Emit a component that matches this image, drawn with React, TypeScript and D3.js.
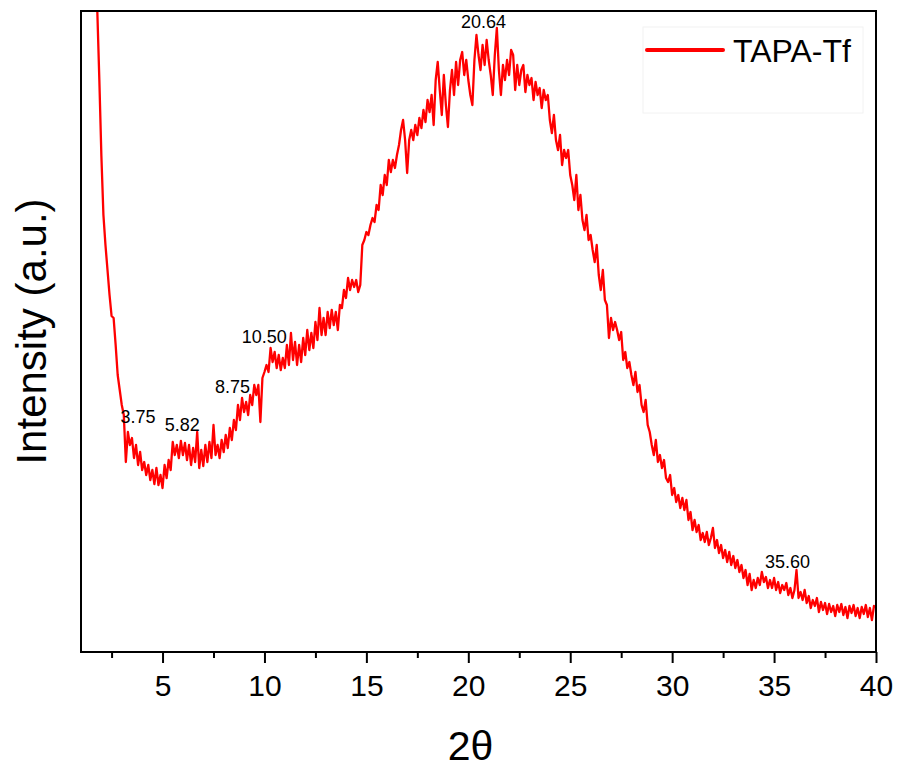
import React, { useRef, useEffect } from "react";
import * as d3 from "d3";

// 2-theta grid: 1.7 .. 40.0, step 0.1
const twoTheta = d3.range(17, 401).map((i) => i / 10);

// intensity (a.u.), one row per degree
const intensity = [
  712, 641, 572,
  496, 437, 407, 382, 357, 336, 334, 307, 277, 262,
  247, 237, 190, 220, 207, 214, 194, 207, 187, 200,
  182, 190, 177, 187, 172, 182, 168, 184, 167, 177,
  164, 187, 174, 192, 182, 210, 197, 207, 194, 211,
  197, 209, 192, 207, 187, 204, 190, 220, 184, 202,
  186, 207, 190, 210, 194, 227, 197, 207, 194, 212,
  200, 217, 204, 224, 212, 232, 222, 247, 232, 254,
  240, 250, 237, 257, 247, 267, 257, 267, 230, 274,
  280, 287, 280, 304, 290, 300, 284, 297, 282, 294,
  284, 307, 287, 319, 292, 310, 287, 307, 290, 314,
  297, 322, 302, 319, 304, 330, 312, 344, 317, 334,
  317, 340, 324, 342, 327, 340, 322, 347, 344, 362,
  354, 374, 362, 372, 365, 372, 360, 367, 407, 412,
  420, 417, 427, 434, 430, 447, 442, 467, 457, 477,
  467, 492, 480, 492, 484, 497, 507, 522, 532, 512,
  479, 512, 522, 512, 527, 517, 534, 524, 542, 530,
  552, 540, 557, 527, 572, 590, 562, 537, 577, 547,
  525, 562, 582, 557, 590, 567, 592, 600, 577, 592,
  572, 557, 547, 592, 617, 597, 582, 607, 587, 612,
  592, 577, 557, 597, 624, 582, 557, 587, 572, 592,
  577, 602, 597, 562, 587, 567, 582, 587, 560, 577,
  567, 574, 552, 570, 557, 564, 544, 562, 552, 557,
  532, 519, 537, 512, 502, 517, 487, 502, 494, 502,
  477, 467, 452, 477, 442, 457, 432, 422, 437, 412,
  417, 402, 390, 407, 377, 362, 382, 352, 347, 314,
  334, 322, 330, 322, 312, 320, 292, 300, 284, 290,
  277, 267, 280, 260, 267, 247, 240, 252, 227, 220,
  207, 197, 212, 190, 197, 184, 192, 174, 170, 177,
  157, 164, 150, 157, 144, 154, 142, 152, 132, 140,
  122, 132, 120, 127, 112, 119, 110, 120, 107, 114,
  124, 104, 112, 99, 107, 94, 102, 90, 100, 87,
  96, 84, 92, 80, 87, 74, 82, 67, 78, 62,
  72, 64, 74, 67, 80, 70, 75, 64, 72, 64,
  74, 62, 70, 59, 67, 62, 69, 57, 64, 54,
  62, 82, 54, 60, 52, 62, 49, 56, 44, 52,
  46, 54, 40, 50, 42, 49, 38, 48, 40, 46,
  36, 47, 40, 48, 37, 45, 34, 46, 39, 47,
  36, 44, 34, 45, 38, 47, 35, 44, 32, 46,
  45,
];

const majorTicks = [5, 10, 15, 20, 25, 30, 35, 40];
const minorTicks = [2.5, 7.5, 12.5, 17.5, 22.5, 27.5, 32.5, 37.5];

// peak annotations: text, where it sits (2-theta centre, intensity of baseline)
const peakText = ["3.75", "5.82", "8.75", "10.50", "20.64", "35.60"];
const peakAt = [3.8, 5.97, 8.43, 9.99, 20.75, 35.66];
const peakLevel = [229, 221, 259, 309, 624, 84];

const seriesName = "TAPA-Tf";

const FONT = "Arial, 'Liberation Sans', sans-serif";

function App() {
  const svgRef = useRef(null);

  useEffect(() => {
    const svg = d3.select(svgRef.current);
    svg.selectAll("*").remove();

    const left = 81, right = 876, top = 11, bottom = 652;

    const x = d3.scaleLinear().domain([1, 40]).range([left, right]);
    const y = d3.scaleLinear().domain([0, 641]).range([bottom, top]);

    svg.append("defs")
      .append("clipPath").attr("id", "plotclip")
      .append("rect")
      .attr("x", left).attr("y", top)
      .attr("width", right - left).attr("height", bottom - top);

    const pts = twoTheta.map((t, i) => [t, intensity[i]]);
    const line = d3.line().x((d) => x(d[0])).y((d) => y(d[1]));

    svg.append("path")
      .datum(pts)
      .attr("clip-path", "url(#plotclip)")
      .attr("fill", "none")
      .attr("stroke", "#ff0000")
      .attr("stroke-width", 2.3)
      .attr("stroke-linejoin", "round")
      .attr("d", line);

    // minor ticks
    const minor = svg.append("g")
      .attr("transform", `translate(0,${bottom})`)
      .call(d3.axisBottom(x).tickValues(minorTicks).tickSize(6).tickFormat(() => ""));
    minor.select(".domain").remove();
    minor.selectAll("line").attr("stroke", "#000").attr("stroke-width", 2);

    // major ticks
    const major = svg.append("g")
      .attr("transform", `translate(0,${bottom})`)
      .call(d3.axisBottom(x).tickValues(majorTicks).tickSize(11).tickPadding(12));
    major.select(".domain").remove();
    major.selectAll("line").attr("stroke", "#000").attr("stroke-width", 2);
    major.selectAll("text")
      .attr("fill", "#000")
      .style("font-family", FONT)
      .style("font-size", "30px");

    // frame
    svg.append("rect")
      .attr("x", left).attr("y", top)
      .attr("width", right - left).attr("height", bottom - top)
      .attr("fill", "none")
      .attr("stroke", "#000")
      .attr("stroke-width", 2);

    // peak labels
    svg.selectAll(".peak")
      .data(peakText)
      .join("text")
      .attr("class", "peak")
      .attr("x", (d, i) => x(peakAt[i]))
      .attr("y", (d, i) => y(peakLevel[i]))
      .attr("text-anchor", "middle")
      .style("font-family", FONT)
      .style("font-size", "18px")
      .attr("fill", "#000")
      .text((d) => d);

    // legend
    const lg = svg.append("g");
    lg.append("rect")
      .attr("x", 643).attr("y", 27).attr("width", 220).attr("height", 86)
      .attr("fill", "#fff").attr("stroke", "#f2f2f2").attr("stroke-width", 1);
    lg.append("line")
      .attr("x1", 647).attr("x2", 723).attr("y1", 50).attr("y2", 50)
      .attr("stroke", "#ff0000").attr("stroke-width", 4).attr("stroke-linecap", "round");
    lg.append("text")
      .attr("x", 733).attr("y", 62)
      .style("font-family", FONT).style("font-size", "32px")
      .attr("fill", "#000")
      .text(seriesName);

    // axis titles
    svg.append("text")
      .attr("x", (left + right) / 2 - 8).attr("y", 760)
      .attr("text-anchor", "middle")
      .style("font-family", FONT).style("font-size", "41px")
      .attr("fill", "#000")
      .text("2θ");

    svg.append("text")
      .attr("transform", `translate(46,${(top + bottom) / 2}) rotate(-90)`)
      .attr("text-anchor", "middle")
      .style("font-family", FONT).style("font-size", "42px")
      .attr("fill", "#000")
      .text("Intensity (a.u.)");
  }, []);

  return (
    <svg
      ref={svgRef}
      width={899}
      height={771}
      style={{ position: "absolute", left: 0, top: 0, background: "#fff" }}
    />
  );
}

export default App;
